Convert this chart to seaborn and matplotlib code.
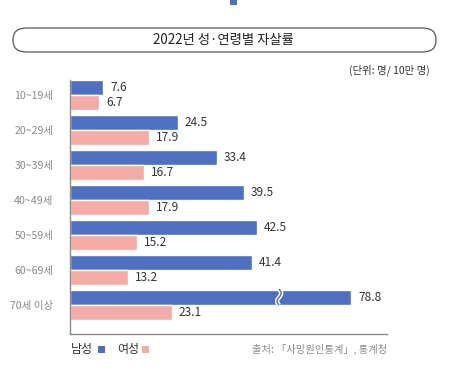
#2022 suicide rate by sex and age group (horizontal grouped bars)
import numpy as np
import pandas as pd
import matplotlib
matplotlib.use("Agg")
import matplotlib.pyplot as plt
from matplotlib.patches import FancyBboxPatch, Rectangle
import seaborn as sns

#DATA
ages = ['10~19세', '20~29세', '30~39세', '40~49세', '50~59세', '60~69세', '70세 이상']
male = [7.6, 24.5, 33.4, 39.5, 42.5, 41.4, 78.8]
female = [6.7, 17.9, 16.7, 17.9, 15.2, 13.2, 23.1]
sexes = ['남성', '여성']
title = '2022년 성·연령별 자살률'
unit_note = '(단위: 명/ 10만 명)'
source_note = '출처: 「사망원인통계」, 통계청'

#the axis is broken: bars above this value are drawn shortened
axis_cap = 63.9
break_at = 47.5

blue = '#4f6fc1'
pink = '#f3aca6'

sns.set_theme(style='white')
plt.rcParams['font.family'] = ['Noto Sans CJK KR', 'DejaVu Sans']

df = pd.DataFrame({'age': ages * 2,
                   'sex': [sexes[0]] * len(ages) + [sexes[1]] * len(ages),
                   'rate': male + female})
df['shown'] = df['rate'].clip(upper=axis_cap)

fig = plt.figure(figsize=(4.64, 3.72), dpi=100)
ax = fig.add_axes([70/464, 38/372, 317/464, 254/372])

sns.barplot(data=df, y='age', x='shown', hue='sex', orient='h',
            palette={sexes[0]: blue, sexes[1]: pink}, width=0.86,
            saturation=1, legend=False, ax=ax)

ax.set_xlim(0, 72)
ax.set_ylim(6.83, -0.43)
ax.set_xlabel('')
ax.set_ylabel('')
ax.set_xticks([])
ax.tick_params(axis='y', length=0, pad=12, labelsize=7.6, labelcolor='#8a8a8a')
for s in ['top', 'right']:
    ax.spines[s].set_visible(False)
for s in ['left', 'bottom']:
    ax.spines[s].set_color('#8c8c8c')
    ax.spines[s].set_linewidth(1)

#value labels with the real values
for cont, vals in zip(ax.containers, [male, female]):
    ax.bar_label(cont, labels=[f'{v:.1f}' for v in vals], padding=5,
                 fontsize=8.6, color='#333333')

#break mark on the long bar: an S-shaped white double line
yy = np.linspace(6 - 0.45, 6 + 0.01, 50)
xx = break_at + 0.45 * np.sin((yy - yy[0]) / (yy[-1] - yy[0]) * 2 * np.pi)
ax.plot(xx, yy, color='white', lw=3.2, zorder=5, solid_capstyle='butt')
ax.plot(xx, yy, color=blue, lw=1.0, zorder=6, solid_capstyle='butt')

#title box
box = FancyBboxPatch((13/464, (372-52)/372), 423/464, 24/372,
                     boxstyle='round,pad=0,rounding_size=0.03',
                     transform=fig.transFigure, facecolor='white',
                     edgecolor='#555555', linewidth=0.9)
fig.patches.append(box)
fig.text(223/464, (372-40)/372, title, ha='center', va='center',
         fontsize=9.6, color='#222222')
fig.patches.append(Rectangle((230/464, (372-5)/372), 7/464, 5/372,
                             transform=fig.transFigure, facecolor=blue,
                             edgecolor='none'))

fig.text(430/464, (372-70)/372, unit_note, ha='right', va='center',
         fontsize=7.5, color='#333333')

#legend at the bottom
fig.text(71/464, (372-349)/372, sexes[0], ha='left', va='center',
         fontsize=8.6, color='#333333')
fig.patches.append(Rectangle((98/464, (372-353)/372), 7/464, 7/372,
                             transform=fig.transFigure, facecolor=blue,
                             edgecolor='none'))
fig.text(117/464, (372-349)/372, sexes[1], ha='left', va='center',
         fontsize=8.6, color='#333333')
fig.patches.append(Rectangle((142/464, (372-353)/372), 7/464, 7/372,
                             transform=fig.transFigure, facecolor=pink,
                             edgecolor='none'))

fig.text(387/464, (372-349)/372, source_note, ha='right', va='center',
         fontsize=7.4, color='#8a8a8a')

plt.savefig('out.png', dpi=100)
